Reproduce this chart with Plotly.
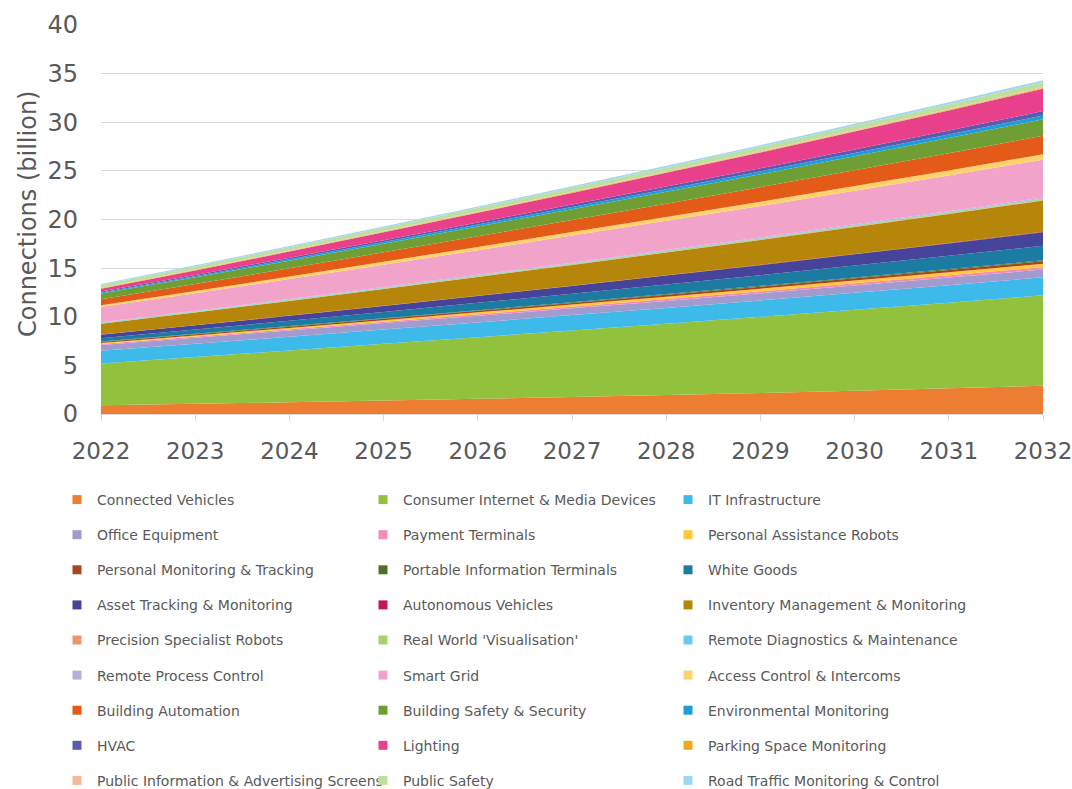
import plotly.graph_objects as go

years = [2022, 2023, 2024, 2025, 2026, 2027, 2028, 2029, 2030, 2031, 2032]

series_names = [
    "Connected Vehicles", "Consumer Internet & Media Devices", "IT Infrastructure",
    "Office Equipment", "Payment Terminals", "Personal Assistance Robots",
    "Personal Monitoring & Tracking", "Portable Information Terminals", "White Goods",
    "Asset Tracking & Monitoring", "Autonomous Vehicles", "Inventory Management & Monitoring",
    "Precision Specialist Robots", "Real World 'Visualisation'", "Remote Diagnostics & Maintenance",
    "Remote Process Control", "Smart Grid", "Access Control & Intercoms",
    "Building Automation", "Building Safety & Security", "Environmental Monitoring",
    "HVAC", "Lighting", "Parking Space Monitoring",
    "Public Information & Advertising Screens", "Public Safety", "Road Traffic Monitoring & Control",
]

connected_vehicles = [0.9, 1.05, 1.2, 1.38, 1.56, 1.75, 1.95, 2.16, 2.4, 2.64, 2.9]
consumer_internet = [4.3, 4.82, 5.33, 5.84, 6.34, 6.84, 7.33, 7.83, 8.32, 8.81, 9.3]
it_infrastructure = [1.3, 1.36, 1.41, 1.47, 1.52, 1.58, 1.63, 1.69, 1.74, 1.8, 1.85]
office_equipment = [0.6, 0.62, 0.64, 0.66, 0.68, 0.7, 0.72, 0.74, 0.76, 0.78, 0.8]
payment_terminals = [0.1, 0.11, 0.13, 0.14, 0.16, 0.17, 0.19, 0.2, 0.22, 0.23, 0.25]
personal_assistance = [0.1, 0.12, 0.14, 0.16, 0.19, 0.21, 0.24, 0.27, 0.29, 0.32, 0.35]
personal_monitoring = [0.1, 0.11, 0.13, 0.14, 0.16, 0.17, 0.19, 0.2, 0.22, 0.23, 0.25]
portable_information = [0.05, 0.055, 0.06, 0.065, 0.07, 0.075, 0.08, 0.085, 0.09, 0.095, 0.1]
white_goods = [0.35, 0.44, 0.54, 0.64, 0.75, 0.86, 0.98, 1.1, 1.23, 1.36, 1.5]
asset_tracking = [0.35, 0.43, 0.52, 0.61, 0.71, 0.81, 0.92, 1.03, 1.15, 1.27, 1.4]
autonomous_vehicles = [0.02, 0.02, 0.03, 0.03, 0.03, 0.035, 0.04, 0.04, 0.045, 0.05, 0.05]
inventory_management = [1.1, 1.3, 1.5, 1.71, 1.92, 2.13, 2.34, 2.55, 2.76, 2.98, 3.2]
precision_robots = [0.02, 0.02, 0.025, 0.03, 0.03, 0.035, 0.035, 0.04, 0.045, 0.05, 0.05]
real_world_visualisation = [0.05, 0.055, 0.06, 0.065, 0.07, 0.075, 0.08, 0.085, 0.09, 0.095, 0.1]
remote_diagnostics = [0.05, 0.05, 0.05, 0.05, 0.05, 0.05, 0.05, 0.05, 0.05, 0.05, 0.05]
remote_process_control = [0.05, 0.055, 0.06, 0.065, 0.07, 0.075, 0.08, 0.085, 0.09, 0.095, 0.1]
smart_grid = [1.55, 1.8, 2.05, 2.3, 2.54, 2.78, 3.01, 3.24, 3.46, 3.68, 3.9]
access_control = [0.2, 0.23, 0.26, 0.3, 0.33, 0.37, 0.4, 0.44, 0.48, 0.51, 0.55]
building_automation = [0.6, 0.72, 0.84, 0.97, 1.1, 1.23, 1.36, 1.49, 1.62, 1.76, 1.9]
building_safety = [0.6, 0.69, 0.79, 0.89, 1.0, 1.11, 1.22, 1.33, 1.45, 1.57, 1.7]
environmental_monitoring = [0.1, 0.12, 0.15, 0.17, 0.2, 0.23, 0.26, 0.29, 0.33, 0.36, 0.4]
hvac = [0.1, 0.13, 0.16, 0.19, 0.22, 0.25, 0.29, 0.33, 0.37, 0.41, 0.45]
lighting = [0.3, 0.46, 0.63, 0.81, 1.0, 1.2, 1.4, 1.61, 1.83, 2.06, 2.3]
parking_space = [0.03, 0.035, 0.04, 0.045, 0.05, 0.055, 0.06, 0.065, 0.07, 0.075, 0.08]
public_information = [0.05, 0.055, 0.06, 0.065, 0.07, 0.075, 0.08, 0.085, 0.09, 0.095, 0.1]
public_safety = [0.3, 0.32, 0.34, 0.36, 0.38, 0.4, 0.42, 0.44, 0.46, 0.48, 0.5]
road_traffic = [0.1, 0.11, 0.12, 0.13, 0.14, 0.15, 0.16, 0.17, 0.18, 0.19, 0.2]

series_values = [
    connected_vehicles, consumer_internet, it_infrastructure, office_equipment,
    payment_terminals, personal_assistance, personal_monitoring, portable_information,
    white_goods, asset_tracking, autonomous_vehicles, inventory_management,
    precision_robots, real_world_visualisation, remote_diagnostics, remote_process_control,
    smart_grid, access_control, building_automation, building_safety,
    environmental_monitoring, hvac, lighting, parking_space,
    public_information, public_safety, road_traffic,
]

colors = [
    "#ED7D31", "#92C13E", "#3DB9EA", "#A29BCF", "#F08DB8", "#FFC83A",
    "#A5461E", "#4F6F28", "#1C7BA0", "#46449A", "#C0185A", "#B5860A",
    "#F0956A", "#A6D16B", "#6CC8EE", "#B4B0DC", "#F2A3CA", "#FFD36B",
    "#E35B16", "#6F9E35", "#1C9ED9", "#5B5BAF", "#E8408B", "#F0A81C",
    "#F5B895", "#BFDFA0", "#9ED7F0",
]

y_title = "Connections (billion)"
text_color = "#595959"
font_family = "DejaVu Sans"

fig = go.Figure()

for name, vals, col in zip(series_names, series_values, colors):
    fig.add_trace(go.Scatter(
        x=years, y=vals, name=name, stackgroup="one", mode="none",
        fillcolor=col, showlegend=False, hoverinfo="x+y+name",
    ))

legend_ids = ["legend", "legend2", "legend3"]
for i, (name, col) in enumerate(zip(series_names, colors)):
    fig.add_trace(go.Scatter(
        x=[None], y=[None], name=name, mode="markers",
        marker=dict(symbol="square", size=9, color=col),
        legend=legend_ids[i % 3], legendgroup=name, showlegend=True,
    ))

legend_common = dict(
    xref="container", yref="container", xanchor="left", yanchor="top",
    orientation="v", tracegroupgap=13.9, bgcolor="rgba(0,0,0,0)",
    font=dict(family=font_family, size=14, color=text_color),
)
legend_top = 1 - 484 / 789
fig.update_layout(
    legend=dict(x=57 / 1072, y=legend_top, **legend_common),
    legend2=dict(x=363 / 1072, y=legend_top, **legend_common),
    legend3=dict(x=668 / 1072, y=legend_top, **legend_common),
)

fig.update_layout(
    width=1072, height=789,
    margin=dict(l=101, r=29, t=25, b=375, autoexpand=False),
    paper_bgcolor="white", plot_bgcolor="white",
    font=dict(family=font_family, color=text_color),
    xaxis=dict(
        range=[2022, 2032], tickmode="array", tickvals=years,
        ticktext=[str(y) for y in years],
        showgrid=False, zeroline=False, showline=True, linecolor="#D9D9D9",
        ticks="outside", ticklen=6, tickcolor="#D9D9D9",
        tickfont=dict(family=font_family, size=23, color=text_color),
        ticklabelstandoff=10, ticklabeloverflow="allow",
    ),
    yaxis=dict(
        range=[0, 40], tickmode="array", tickvals=[0, 5, 10, 15, 20, 25, 30, 35, 40],
        showgrid=True, gridcolor="#D9D9D9", zeroline=False, showline=False,
        tickfont=dict(family=font_family, size=24, color=text_color),
        ticklabelstandoff=22, ticklabeloverflow="allow",
    ),
    annotations=[dict(
        text=y_title, textangle=-90, showarrow=False,
        xref="paper", yref="paper", x=(28 - 101) / 942, y=(414 - 214) / 389,
        xanchor="center", yanchor="middle",
        font=dict(family=font_family, size=24, color=text_color),
    )],
)

fig.write_html("out.html", post_script="document.body.style.margin='0px';",
               config={"displayModeBar": False})
